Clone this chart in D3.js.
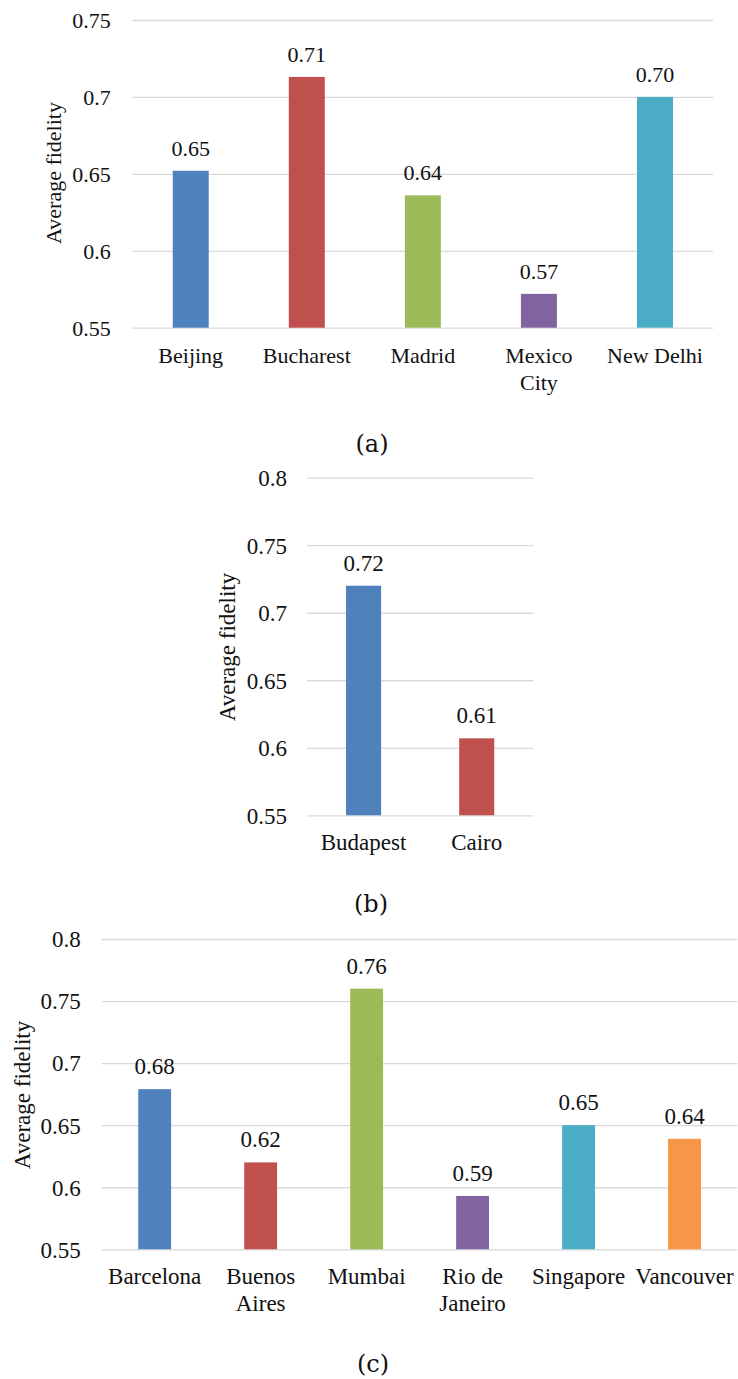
<!DOCTYPE html>
<html>
<head>
<meta charset="utf-8">
<script src="https://cdn.jsdelivr.net/npm/d3@7"></script>
<style>
  html, body { margin: 0; padding: 0; background: #fff; }
  svg { display: block; }
</style>
</head>
<body>
<svg id="chart" width="738" height="1379"></svg>
<script>
// ---------- data ----------
const colors = ["#4F81BD", "#C0504D", "#9BBB59", "#8064A2", "#4BACC6", "#F79646"];

const catsA = ["Beijing", "Bucharest", "Madrid", "Mexico\nCity", "New Delhi"];
const valsA = [0.652, 0.713, 0.636, 0.572, 0.700];
const ticksA = [0.55, 0.6, 0.65, 0.7, 0.75];

const catsB = ["Budapest", "Cairo"];
const valsB = [0.720, 0.607];
const ticksB = [0.55, 0.6, 0.65, 0.7, 0.75, 0.8];

const catsC = ["Barcelona", "Buenos\nAires", "Mumbai", "Rio de\nJaneiro", "Singapore", "Vancouver"];
const valsC = [0.679, 0.620, 0.760, 0.593, 0.650, 0.639];
const ticksC = [0.55, 0.6, 0.65, 0.7, 0.75, 0.8];

const yTitle = "Average fidelity";
const captions = ["(a)", "(b)", "(c)"];

// ---------- drawing ----------
const svg = d3.select("#chart");
const serif = "'Liberation Serif', 'Times New Roman', serif";
const textColor = "#111";

function panel(cfg) {
  const g = svg.append("g");
  const x = d3.scaleBand().domain(cfg.cats).range([cfg.x0, cfg.x1])
    .paddingInner(0.69).paddingOuter(0.345);
  const y = d3.scaleLinear().domain([cfg.ticks[0], cfg.ticks[cfg.ticks.length - 1]])
    .range([cfg.yb, cfg.yt]);

  // gridlines + tick labels via axis
  const axis = d3.axisLeft(y).tickValues(cfg.ticks)
    .tickSize(-(cfg.x1 - cfg.x0)).tickPadding(cfg.tickPad)
    .tickFormat(d => String(+d.toFixed(2)));
  const ag = g.append("g").attr("transform", `translate(${cfg.x0},0)`).call(axis);
  ag.select(".domain").remove();
  ag.selectAll(".tick line").attr("stroke", "#D9D9D9").attr("stroke-width", 1.3);
  ag.selectAll(".tick text").attr("font-family", serif).attr("font-size", cfg.fs)
    .attr("fill", textColor).attr("dy", "0.34em");

  // bars
  g.selectAll("rect.bar").data(cfg.vals).join("rect")
    .attr("class", "bar")
    .attr("x", (d, i) => x(cfg.cats[i]))
    .attr("width", x.bandwidth())
    .attr("y", d => y(d))
    .attr("height", d => y(cfg.ticks[0]) - y(d))
    .attr("fill", (d, i) => colors[i]);

  // value labels
  g.selectAll("text.val").data(cfg.vals).join("text")
    .attr("class", "val")
    .attr("x", (d, i) => x(cfg.cats[i]) + x.bandwidth() / 2)
    .attr("y", d => y(d) - 15)
    .attr("text-anchor", "middle")
    .attr("font-family", serif).attr("font-size", cfg.fs).attr("fill", textColor)
    .text(d => d3.format(".2f")(d));

  // category labels
  cfg.cats.forEach((c, i) => {
    const t = g.append("text")
      .attr("text-anchor", "middle")
      .attr("font-family", serif).attr("font-size", cfg.fs).attr("fill", textColor);
    c.split("\n").forEach((line, k) => {
      t.append("tspan")
        .attr("x", x(c) + x.bandwidth() / 2)
        .attr("y", y(cfg.ticks[0]) + 35 + k * 27)
        .text(line);
    });
  });

  // y title
  g.append("text")
    .attr("transform", `translate(${cfg.titleX},${cfg.titleY}) rotate(-90)`)
    .attr("text-anchor", "middle")
    .attr("dominant-baseline", "central")
    .attr("font-family", serif).attr("font-size", cfg.fs).attr("fill", textColor)
    .text(yTitle);

  // caption
  g.append("text")
    .attr("x", cfg.capX).attr("y", cfg.capY)
    .attr("text-anchor", "middle")
    .attr("font-family", "'DejaVu Serif', serif").attr("font-size", 24).attr("fill", textColor)
    .text(cfg.caption);
}

panel({ cats: catsA, vals: valsA, ticks: ticksA, x0: 132.7, x1: 713, yb: 327.7, yt: 20,
  fs: 22, tickPad: 22, titleX: 53, titleY: 173, capX: 372, capY: 452, caption: captions[0] });
panel({ cats: catsB, vals: valsB, ticks: ticksB, x0: 307, x1: 533.3, yb: 815.3, yt: 477.7,
  fs: 23, tickPad: 20, titleX: 227, titleY: 647, capX: 371, capY: 912, caption: captions[1] });
panel({ cats: catsC, vals: valsC, ticks: ticksC, x0: 101.7, x1: 737.5, yb: 1249.3, yt: 939,
  fs: 23, tickPad: 21, titleX: 22, titleY: 1095, capX: 373, capY: 1372, caption: captions[2] });
</script>
</body>
</html>
